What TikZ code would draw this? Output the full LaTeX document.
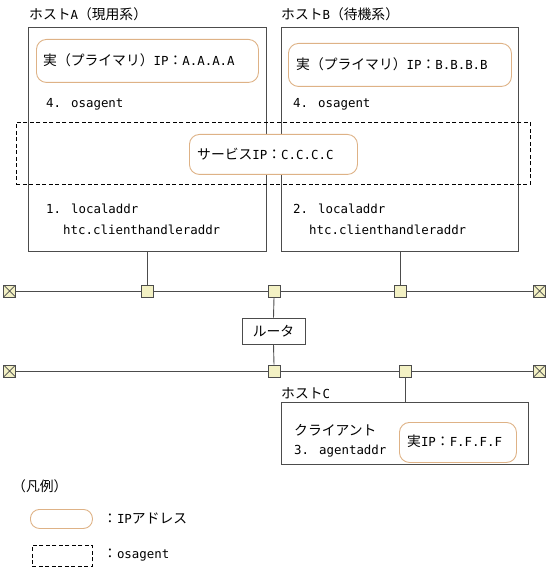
\documentclass[tikz,border=0pt]{standalone}
\usepackage{fontspec}
\setmainfont{Noto Sans CJK JP}
\newfontfamily\latmono{DejaVu Sans Mono}[Scale=0.9]
\newcommand\lt[1]{{\latmono #1}}
\begin{document}
\begin{tikzpicture}[x=1pt,y=-1pt,
  line/.style={draw=black!70,line width=0.9pt},
  hostbox/.style={line,rectangle,anchor=north west,inner sep=0pt},
  ipbox/.style={draw={rgb,255:red,222;green,178;blue,134},line width=0.9pt,rounded corners=10pt,rectangle,anchor=north west,inner sep=0pt},
  agbox/.style={draw=black,line width=0.9pt,dashed,dash pattern=on 4pt off 2.5pt,rectangle,anchor=north west,inner sep=0pt},
  port/.style={line,rectangle,fill={rgb,255:red,243;green,241;blue,196},minimum size=12pt,inner sep=0pt},
  term/.style={port,path picture={\draw[black!70,line width=0.7pt] (path picture bounding box.north west) -- (path picture bounding box.south east) (path picture bounding box.north east) -- (path picture bounding box.south west);}},
  txt/.style={anchor=west,inner sep=0pt,font=\fontsize{13.8}{16}\selectfont}
]
\useasboundingbox (0,0) rectangle (547,569);
% hosts
\node[hostbox,minimum width=238pt,minimum height=224pt] (hostA) at (28,27) {};
\node[hostbox,minimum width=237pt,minimum height=224pt] (hostB) at (281,27) {};
\node[txt] (labA) at (29,14) {ホスト\lt{A}（現用系）};
\node[txt] (labB) at (281,14) {ホスト\lt{B}（待機系）};
% primary IPs
\node[ipbox,minimum width=222pt,minimum height=43pt] (ipA) at (36,39) {};
\node[ipbox,minimum width=223pt,minimum height=43pt] (ipB) at (288,43) {};
\node[txt] (ipAt) at (43,60.5) {実（プライマリ）\lt{IP}：\lt{A.A.A.A}};
\node[txt] (ipBt) at (296,64.5) {実（プライマリ）\lt{IP}：\lt{B.B.B.B}};
\node[txt] (osA) at (46,104) {\lt{4. osagent}};
\node[txt] (osB) at (293,104) {\lt{4. osagent}};
% service
\node[agbox,minimum width=514pt,minimum height=62pt] (ag) at (16,122) {};
\node[ipbox,fill=white,minimum width=168pt,minimum height=40pt] (svc) at (189,134) {};
\node[txt] (svct) at (197,154) {サービス\lt{IP}：\lt{C.C.C.C}};
\node[txt] (laA) at (46,209) {\lt{1. localaddr}};
\node[txt] (htA) at (63,230) {\lt{htc.clienthandleraddr}};
\node[txt] (laB) at (293,209) {\lt{2. localaddr}};
\node[txt] (htB) at (309,230) {\lt{htc.clienthandleraddr}};
% network 1
\node[term] (t1) at (9.6,291) {};
\node[port] (s1) at (147,291) {};
\node[port] (s2) at (274,291) {};
\node[port] (s3) at (400,291) {};
\node[term] (t2) at (539.5,291) {};
\draw[line] (t1) -- (s1) -- (s2) -- (s3) -- (t2);
\draw[line] (s1.north) -- (s1.north |- hostA.south);
\draw[line] (s3.north) -- (s3.north |- hostB.south);
% router
\node[line,rectangle,minimum width=63pt,minimum height=26pt,inner sep=0pt,font=\fontsize{13.8}{16}\selectfont] (router) at (273.5,331) {ルータ};
% network 2
\node[term] (t3) at (9.6,371) {};
\node[port] (s4) at (274,371) {};
\node[port] (s5) at (405.5,371) {};
\node[term] (t4) at (539.5,371) {};
\draw[line] (t3) -- (s4) -- (s5) -- (t4);
\draw[line] (s2.south) -- (router.north);
\draw[line] (router.south) -- (s4.north);
% host C
\node[hostbox,minimum width=247pt,minimum height=62pt] (hostC) at (281,402) {};
\draw[line] (s5.south) -- (s5.south |- hostC.north);
\node[txt] (labC) at (281,393) {ホスト\lt{C}};
\node[txt] (cli) at (294,430) {クライアント};
\node[txt] (aga) at (294,451) {\lt{3. agentaddr}};
\node[ipbox,minimum width=117pt,minimum height=40pt] (ipF) at (399,422) {};
\node[txt] (ipFt) at (407,441) {実\lt{IP}：\lt{F.F.F.F}};
% legend
\node[txt] (leg) at (12,486) {（凡例）};
\node[ipbox,minimum width=62pt,minimum height=19pt,rounded corners=9pt] (legip) at (30,509) {};
\node[txt] (legipt) at (103,518.5) {：\lt{IP}アドレス};
\node[agbox,minimum width=60pt,minimum height=21pt] (legag) at (32,545) {};
\node[txt] (legagt) at (103,555.5) {：\lt{osagent}};
\end{tikzpicture}
\end{document}
